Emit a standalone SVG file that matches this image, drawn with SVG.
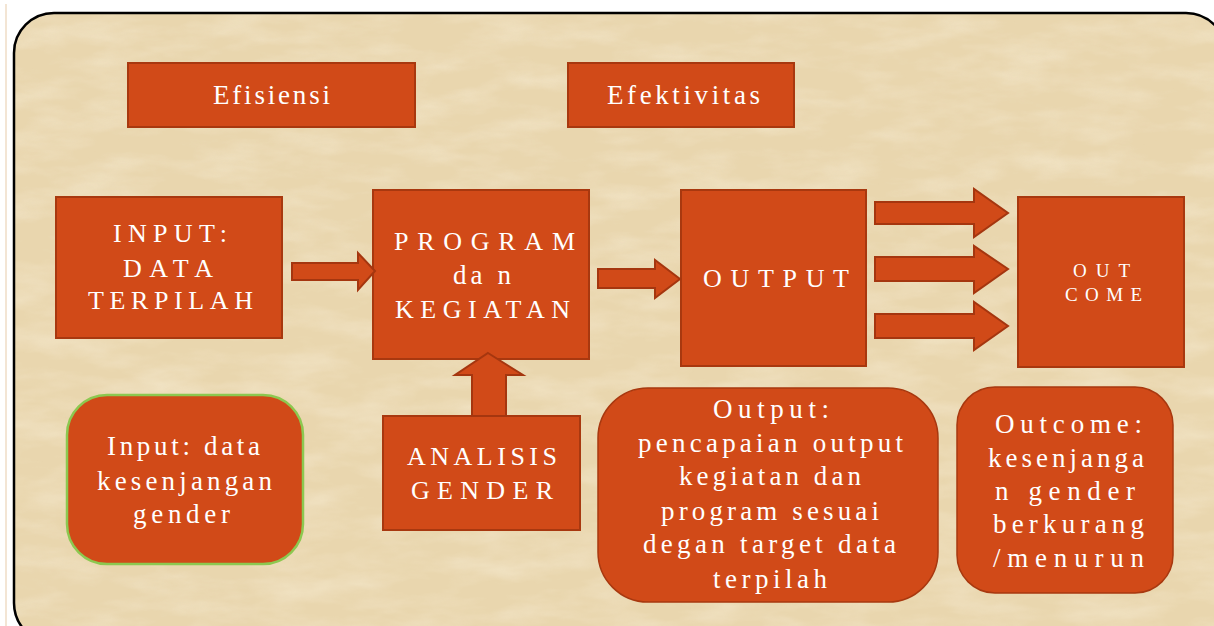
<svg xmlns="http://www.w3.org/2000/svg" width="1214" height="626" viewBox="0 0 1214 626">
  <style>
    .box { fill: #D14A18; stroke: #A8380F; stroke-width: 2; }
    .rbox { fill: #D14A18; stroke: #A8380F; stroke-width: 1.5; }
    .gbox { fill: #D14A18; stroke: #8CC850; stroke-width: 2.5; }
    .arrow { fill: #D14A18; stroke: #A5360F; stroke-width: 2; stroke-linejoin: miter; }
    .t { font-family: "Liberation Serif", "DejaVu Serif", serif; fill: #FFFFFF; font-size: 27px; }
    .c { font-size: 26px; }
  </style>
  <defs>
    <filter id="paper" x="0" y="0" width="100%" height="100%">
      <feTurbulence type="fractalNoise" baseFrequency="0.015 0.045" numOctaves="4" seed="11" result="noise"/>
      <feColorMatrix in="noise" type="matrix" values="0 0 0 0 0.98  0 0 0 0 0.92  0 0 0 0 0.78  1.2 0 0 0 -0.45" result="light"/>
      <feComposite in="light" in2="SourceGraphic" operator="in"/>
    </filter>
    <clipPath id="frameClip">
      <rect x="14" y="13" width="1212" height="630" rx="40" ry="40"/>
    </clipPath>
  </defs>

  <rect x="0" y="0" width="1214" height="626" fill="#FFFFFF"/>
  <line x1="6" y1="4" x2="6" y2="626" stroke="#EFDDC6" stroke-width="1.5"/>

  <g id="background">
    <rect x="14" y="13" width="1212" height="630" rx="40" ry="40" fill="#E9D6AE"/>
    <g clip-path="url(#frameClip)" opacity="0.55">
      <rect x="14" y="13" width="1212" height="630" fill="#000" filter="url(#paper)"/>
    </g>
    <rect x="14" y="13" width="1212" height="630" rx="40" ry="40" fill="none" stroke="#000000" stroke-width="2.5"/>
  </g>

  <g id="efisiensi">
    <rect class="box" x="128" y="63" width="287" height="64"/>
    <text class="t" x="213" y="104" textLength="117" lengthAdjust="spacing">Efisiensi</text>
  </g>

  <g id="efektivitas">
    <rect class="box" x="568" y="63" width="226" height="64"/>
    <text class="t" x="607" y="104" textLength="153" lengthAdjust="spacing">Efektivitas</text>
  </g>

  <g id="input">
    <rect class="box" x="56" y="197" width="226" height="141"/>
    <text class="t c" x="113" y="242" textLength="114" lengthAdjust="spacing">INPUT:</text>
    <text class="t c" x="123" y="277" textLength="90" lengthAdjust="spacing">DATA</text>
    <text class="t c" x="88" y="309" textLength="165" lengthAdjust="spacing">TERPILAH</text>
  </g>

  <g id="program">
    <rect class="box" x="373" y="190" width="216" height="169"/>
    <text class="t c" x="394" y="250" textLength="181" lengthAdjust="spacing">PROGRAM</text>
    <text class="t" x="453" y="284" textLength="58" lengthAdjust="spacing">da n</text>
    <text class="t c" x="395" y="318" textLength="175" lengthAdjust="spacing">KEGIATAN</text>
  </g>

  <g id="output">
    <rect class="box" x="681" y="190" width="185" height="176"/>
    <text class="t c" x="703" y="287" textLength="146" lengthAdjust="spacing">OUTPUT</text>
  </g>

  <g id="outcome">
    <rect class="box" x="1018" y="197" width="166" height="170"/>
    <text class="t" style="font-size:19px" x="1073" y="277" textLength="57" lengthAdjust="spacing">OUT</text>
    <text class="t" style="font-size:19px" x="1065" y="301" textLength="77" lengthAdjust="spacing">COME</text>
  </g>

  <g id="analisis-gender">
    <rect class="box" x="383" y="416" width="197" height="114"/>
    <text class="t c" x="407" y="465" textLength="150" lengthAdjust="spacing">ANALISIS</text>
    <text class="t c" x="411" y="499" textLength="142" lengthAdjust="spacing">GENDER</text>
  </g>

  <g id="input-note">
    <rect class="gbox" x="67" y="395" width="236" height="169" rx="40" ry="40"/>
    <text class="t" x="107" y="455" textLength="153" lengthAdjust="spacing">Input: data</text>
    <text class="t" x="97" y="490" textLength="175" lengthAdjust="spacing">kesenjangan</text>
    <text class="t" x="133" y="523" textLength="97" lengthAdjust="spacing">gender</text>
  </g>

  <g id="output-note">
    <rect class="rbox" x="598" y="388" width="340" height="214" rx="50" ry="50"/>
    <text class="t" x="713" y="418" textLength="116" lengthAdjust="spacing">Output:</text>
    <text class="t" x="638" y="452" textLength="265" lengthAdjust="spacing">pencapaian output</text>
    <text class="t" x="679" y="485" textLength="182" lengthAdjust="spacing">kegiatan dan</text>
    <text class="t" x="661" y="520" textLength="218" lengthAdjust="spacing">program sesuai</text>
    <text class="t" x="643" y="553" textLength="253" lengthAdjust="spacing">degan target data</text>
    <text class="t" x="713" y="588" textLength="114" lengthAdjust="spacing">terpilah</text>
  </g>

  <g id="outcome-note">
    <rect class="rbox" x="957" y="387" width="216" height="206" rx="38" ry="38"/>
    <text class="t" x="995" y="433" textLength="147" lengthAdjust="spacing">Outcome:</text>
    <text class="t" x="988" y="467" textLength="156" lengthAdjust="spacing">kesenjanga</text>
    <text class="t" x="995" y="500" textLength="140" lengthAdjust="spacing">n gender</text>
    <text class="t" x="993" y="533" textLength="151" lengthAdjust="spacing">berkurang</text>
    <text class="t" x="993" y="567" textLength="151" lengthAdjust="spacing">/menurun</text>
  </g>

  <g id="connectors">
    <polygon class="arrow" points="292,263 358,263 358,253 375,271 358,290 358,280 292,280"/>
    <polygon class="arrow" points="598,269 655,269 655,260 680,279 655,298 655,288 598,288"/>
    <polygon class="arrow" points="875,202 974,202 974,189 1008,213 974,237 974,224 875,224"/>
    <polygon class="arrow" points="875,257 974,257 974,246 1008,269 974,293 974,281 875,281"/>
    <polygon class="arrow" points="875,314 974,314 974,302 1008,326 974,350 974,338 875,338"/>
    <polygon class="arrow" points="488,353 523,375 506,375 506,416 472,416 472,375 455,375"/>
  </g>
</svg>
